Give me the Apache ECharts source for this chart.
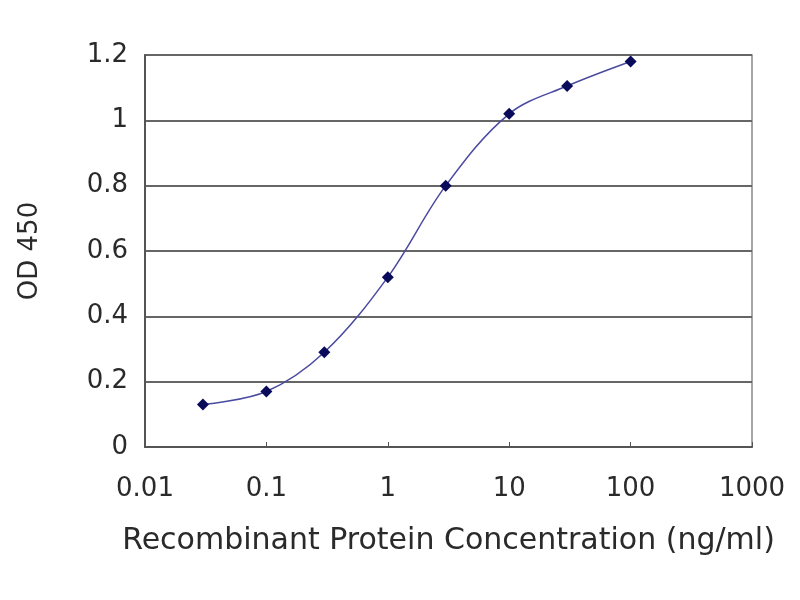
<!DOCTYPE html>
<html><head><meta charset="utf-8">
<script src="https://cdn.jsdelivr.net/npm/echarts@6/dist/echarts.min.js"></script>
<style>html,body{margin:0;padding:0;background:#fff}#c{width:800px;height:600px}</style>
</head><body><div id="c"></div>
<script>
const concentrations = [0.03, 0.1, 0.3, 1, 3, 10, 30, 100];
const odValues = [0.13, 0.17, 0.29, 0.52, 0.80, 1.02, 1.105, 1.18];
const xTickLabels = ['0.01', '0.1', '1', '10', '100', '1000'];
const yTickLabels = ['0', '0.2', '0.4', '0.6', '0.8', '1', '1.2'];

const chart = echarts.init(document.getElementById('c'));
const font = 'DejaVu Sans, sans-serif';
chart.setOption({
  backgroundColor: '#fff',
  animation: false,
  grid: { left: 145, right: 48, top: 55, bottom: 153, show: true, borderColor: '#888', borderWidth: 1.5 },
  xAxis: {
    type: 'log', logBase: 10, min: 0.01, max: 1000,
    name: 'Recombinant Protein Concentration (ng/ml)',
    nameLocation: 'middle', nameGap: 79,
    nameTextStyle: { fontFamily: font, fontSize: 30, color: '#2a2a2a' },
    axisLine: { lineStyle: { color: '#555', width: 2 } },
    axisTick: { inside: true, length: 5, lineStyle: { color: '#555' } },
    minorTick: { show: false },
    splitLine: { show: false },
    axisLabel: {
      fontFamily: font, fontSize: 26, color: '#2a2a2a', margin: 29,
      formatter: v => { const i = Math.round(Math.log10(v)) + 2; return xTickLabels[i] !== undefined ? xTickLabels[i] : ''; }
    }
  },
  yAxis: {
    type: 'value', min: 0, max: 1.2, interval: 0.2,
    name: 'OD 450', nameLocation: 'middle', nameGap: 102, nameRotate: 90,
    nameTextStyle: { fontFamily: font, fontSize: 26, color: '#2a2a2a' },
    axisLine: { show: true, lineStyle: { color: '#555', width: 2 } },
    axisTick: { show: false },
    splitLine: { lineStyle: { color: '#666', width: 2 } },
    axisLabel: {
      fontFamily: font, fontSize: 26, color: '#2a2a2a', margin: 17,
      formatter: v => yTickLabels[Math.round(v / 0.2)]
    }
  },
  series: [{
    type: 'line',
    data: concentrations.map((c, i) => [c, odValues[i]]),
    smooth: 0.35,
    symbol: 'diamond', symbolSize: 12,
    itemStyle: { color: '#0a0a5a' },
    lineStyle: { color: '#4a4aa0', width: 1.5 }
  }]
});
</script></body></html>
